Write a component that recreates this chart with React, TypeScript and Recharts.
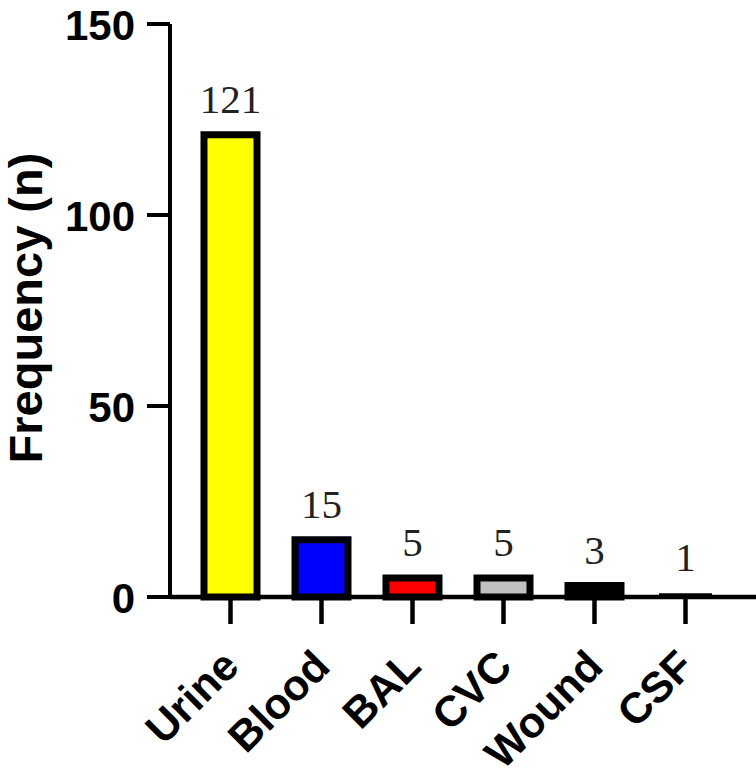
import { BarChart, Bar, XAxis, YAxis, Cell, LabelList } from "recharts";

const categories = ["Urine", "Blood", "BAL", "CVC", "Wound", "CSF"];
const counts = [121, 15, 5, 5, 3, 1];
const barColors = ["#ffff00", "#0000ff", "#ff0000", "#c0c0c0", "#000000", "#000000"];
const yTicks = [0, 50, 100, 150];

const data = categories.map((name, i) => ({ name, value: counts[i] }));

const AXIS_FONT = "'Liberation Sans', Arial, sans-serif";
const LABEL_FONT = "'Liberation Serif', 'Times New Roman', serif";

function XTick({ x, y, payload }: any) {
  const ax = x;
  const ay = y + 32;
  return (
    <text
      x={ax}
      y={ay}
      transform={`rotate(-45, ${ax}, ${ay})`}
      textAnchor="end"
      dominantBaseline="central"
      fontFamily={AXIS_FONT}
      fontWeight="bold"
      fontSize={43}
      fill="#000"
    >
      {payload.value}
    </text>
  );
}

function YTick({ x, y, payload }: any) {
  return (
    <text
      x={x - 10}
      y={y + 1}
      textAnchor="end"
      dominantBaseline="central"
      fontFamily={AXIS_FONT}
      fontWeight="bold"
      fontSize={42}
      fill="#000"
    >
      {payload.value}
    </text>
  );
}

function YTitle() {
  const cx = 42;
  const cy = 308;
  return (
    <text
      x={cx}
      y={cy}
      transform={`rotate(-90, ${cx}, ${cy})`}
      textAnchor="middle"
      fontFamily={AXIS_FONT}
      fontWeight="bold"
      fontSize={47}
      fill="#000"
    >
      Frequency (n)
    </text>
  );
}

export default function App() {
  return (
    <div style={{ position: "absolute", left: 0, top: 0, background: "#fff" }}>
      <BarChart
        width={756}
        height={778}
        data={data}
        margin={{ top: 24, right: 0, bottom: 0, left: 0 }}
        barCategoryGap={0}
      >
        <XAxis
          dataKey="name"
          height={181}
          padding={{ left: 15, right: 25 }}
          tick={<XTick />}
          tickSize={27}
          tickLine={{ stroke: "#000", strokeWidth: 4.5 }}
          axisLine={{ stroke: "#000", strokeWidth: 4.5 }}
          interval={0}
        />
        <YAxis
          width={170}
          domain={[0, 150]}
          ticks={yTicks}
          tick={<YTick />}
          tickSize={23}
          tickLine={{ stroke: "#000", strokeWidth: 4 }}
          axisLine={{ stroke: "#000", strokeWidth: 4 }}
          label={<YTitle />}
        />
        <Bar
          dataKey="value"
          barSize={53}
          stroke="#000"
          strokeWidth={7}
          isAnimationActive={false}
        >
          {data.map((d, i) => (
            <Cell
              key={d.name}
              fill={barColors[i]}
              stroke={d.name === "CSF" ? "none" : "#000"}
            />
          ))}
          <LabelList
            dataKey="value"
            position="top"
            offset={22}
            fontFamily={LABEL_FONT}
            fontSize={41}
            fill="#222"
          />
        </Bar>
      </BarChart>
    </div>
  );
}
